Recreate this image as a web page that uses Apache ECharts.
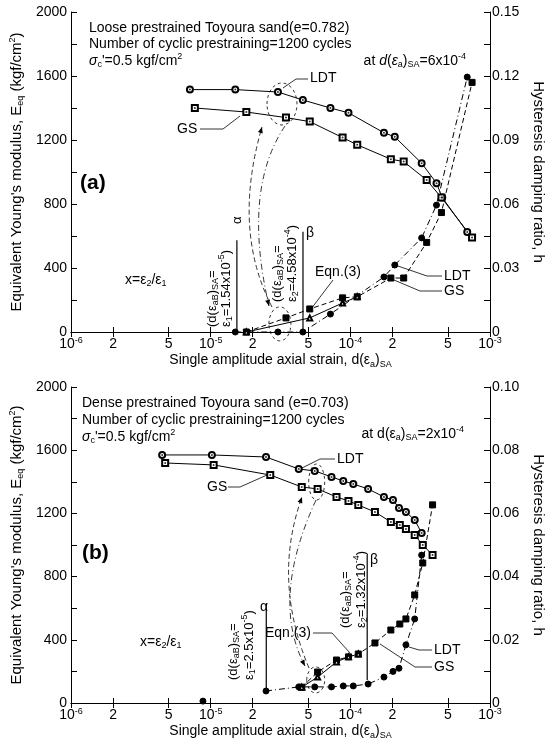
<!DOCTYPE html>
<html>
<head>
<meta charset="utf-8">
<script src="https://cdn.jsdelivr.net/npm/echarts@6/dist/echarts.min.js"></script>
<style>
html,body{margin:0;background:#fff}
#main{width:554px;height:744px}
</style>
</head>
<body>
<div id="main"></div>
<script>
// x ticks (log axis), shared by both panels
const strainTicks = [1e-6, 2e-6, 5e-6, 1e-5, 2e-5, 5e-5, 1e-4, 2e-4, 5e-4, 1e-3]

// panel (a) loose sand, e=0.782
const aLdtStrain = [7.1e-6, 1.5e-5, 3.03e-5, 4.57e-5, 7.2e-5, 9.7e-5, 1.74e-4, 2.08e-4, 3.24e-4, 4.14e-4, 4.55e-4, 6.87e-4]
const aLdtE = [1515, 1515, 1500, 1450, 1400, 1370, 1245, 1220, 1055, 930, 840, 625]
const aGsStrain = [7.7e-6, 1.8e-5, 3.46e-5, 5.12e-5, 8.8e-5, 1.12e-4, 1.95e-4, 2.41e-4, 3.52e-4, 4.49e-4, 7.44e-4]
const aGsE = [1400, 1375, 1340, 1315, 1215, 1170, 1080, 1065, 950, 840, 590]
const aLdtHStrain = [1.5e-5, 3.03e-5, 4.57e-5, 7.2e-5, 1.74e-4, 2.08e-4, 3.24e-4, 4.14e-4, 6.87e-4]
const aLdtH = [0, 0, 0, 0.0084, 0.0258, 0.0314, 0.0441, 0.0595, 0.1195]
const aGsHStrain = [1.8e-5, 3.46e-5, 5.12e-5, 8.8e-5, 1.12e-4, 1.95e-4, 2.41e-4, 3.52e-4, 4.49e-4, 7.44e-4]
const aGsH = [0, 0.0066, 0.0108, 0.016, 0.0165, 0.0253, 0.0253, 0.042, 0.056, 0.117]
const aEqnStrain = [1.8e-5, 5.12e-5, 8.8e-5, 1.12e-4]
const aEqnH = [0, 0.0066, 0.0136, 0.0165]

// panel (b) dense sand, e=0.703
const bLdtStrain = [4.49e-6, 1.02e-5, 2.49e-5, 4.27e-5, 5.56e-5, 7.33e-5, 8.9e-5, 1.05e-4, 1.34e-4, 1.74e-4, 2.02e-4, 2.23e-4, 2.5e-4, 2.89e-4, 3.24e-4]
const bLdtE = [1570, 1570, 1557, 1481, 1469, 1431, 1405, 1386, 1355, 1304, 1285, 1234, 1209, 1158, 1076]
const bGsStrain = [4.72e-6, 1.05e-5, 2.67e-5, 4.49e-5, 5.83e-5, 7.96e-5, 9.7e-5, 1.14e-4, 1.5e-4, 1.95e-4, 2.26e-4, 2.5e-4, 2.89e-4, 3.3e-4, 3.88e-4]
const bGsE = [1519, 1507, 1443, 1367, 1355, 1304, 1279, 1253, 1209, 1146, 1127, 1101, 1063, 1000, 937]
const bLdtHStrain = [2.49e-5, 4.27e-5, 5.56e-5, 7.33e-5, 8.9e-5, 1.05e-4, 1.34e-4, 1.74e-4, 2.02e-4, 2.23e-4, 2.5e-4, 2.89e-4, 3.24e-4]
const bLdtH = [0.0038, 0.0051, 0.0051, 0.0051, 0.0054, 0.0054, 0.006, 0.0082, 0.010, 0.011, 0.0184, 0.0266, 0.0468]
const bLoneStrain = [8.8e-6]
const bLoneH = [0.0006]
const bGsHStrain = [4.49e-5, 5.83e-5, 7.96e-5, 9.7e-5, 1.14e-4, 1.5e-4, 1.95e-4, 2.26e-4, 2.5e-4, 2.89e-4, 3.3e-4, 3.88e-4]
const bGsH = [0.005, 0.0098, 0.0136, 0.0146, 0.0155, 0.019, 0.0231, 0.025, 0.0266, 0.0342, 0.0443, 0.0627]
const bEqnStrain = [4.49e-5, 5.83e-5, 7.96e-5, 9.7e-5, 1.14e-4]
const bEqnH = [0.005, 0.0082, 0.013, 0.0146, 0.0155]

const FF = '"Liberation Sans", Arial, sans-serif'
const pts = (xs, ys) => xs.map((x, i) => [x, ys[i]])

const RICH = {
    sub: { fontSize: 9, fontFamily: FF, verticalAlign: 'bottom', lineHeight: 17, color: '#000' },
    sup: { fontSize: 9, fontFamily: FF, verticalAlign: 'top', lineHeight: 17, color: '#000' },
    b: { fontSize: 14, fontFamily: FF, lineHeight: 17, color: '#000' },
    s: { fontSize: 9, fontFamily: FF, verticalAlign: 'top', lineHeight: 17, color: '#000' }
}

const fmtStrain = v => {
    const e = Math.floor(Math.log10(v) + 1e-9)
    const m = Math.round(v / Math.pow(10, e))
    return m === 1 ? '{b|10}{s|' + e + '}' : '{b|' + m + '}'
}

const chart = echarts.init(document.getElementById('main'))

function xAxes(grid) {
    return [{
        type: 'log', gridIndex: grid, min: 1e-6, max: 1e-3, position: 'bottom',
        axisLine: { lineStyle: { color: '#000', width: 1 } },
        axisTick: { inside: true, length: 5, customValues: strainTicks, lineStyle: { color: '#000' } },
        axisLabel: { customValues: strainTicks, formatter: fmtStrain, rich: RICH, margin: 4 },
        splitLine: { show: false }, minorTick: { show: false },
        name: 'Single amplitude axial strain, d(ε{sub|a}){sub|SA}',
        nameLocation: 'middle', nameGap: 20,
        nameTextStyle: { fontSize: 14, fontFamily: FF, color: '#000', rich: RICH }
    }, {
        type: 'log', gridIndex: grid, min: 1e-6, max: 1e-3, position: 'top',
        axisLine: { lineStyle: { color: '#000', width: 1 } },
        axisTick: { inside: true, length: 5, customValues: strainTicks, lineStyle: { color: '#000' } },
        axisLabel: { show: false }, splitLine: { show: false }
    }]
}

function yAxes(grid, hMax, hStep) {
    return [{
        type: 'value', gridIndex: grid, min: 0, max: 2000, interval: 400, position: 'left',
        axisLine: { show: true, lineStyle: { color: '#000' } },
        axisTick: { show: true, inside: true, length: 6, lineStyle: { color: '#000' } },
        minorTick: { show: true, splitNumber: 2, length: 6, lineStyle: { color: '#000' } },
        axisLabel: { color: '#000', fontSize: 14, fontFamily: FF, margin: 4, formatter: v => String(v) },
        splitLine: { show: false },
        name: "Equivalent Young's modulus, E{sub|eq} (kgf/cm{sup|2})",
        nameLocation: 'middle', nameGap: 36, nameRotate: 90,
        nameTextStyle: { fontSize: 15, fontFamily: FF, color: '#000', rich: RICH }
    }, {
        type: 'value', gridIndex: grid, min: 0, max: hMax, interval: hStep, position: 'right',
        axisLine: { show: true, lineStyle: { color: '#000' } },
        axisTick: { show: true, inside: true, length: 6, lineStyle: { color: '#000' } },
        minorTick: { show: true, splitNumber: 2, length: 6, lineStyle: { color: '#000' } },
        axisLabel: { color: '#000', fontSize: 14, fontFamily: FF, margin: 2,
            formatter: v => v === 0 ? '0' : v.toFixed(2) },
        splitLine: { show: false },
        name: 'Hysteresis damping ratio, h',
        nameLocation: 'middle', nameGap: 32, nameRotate: -90,
        nameTextStyle: { fontSize: 15, fontFamily: FF, color: '#000' }
    }]
}

function lineSeries(xi, yi, data, symbol, dash, size) {
    return {
        type: 'line', xAxisIndex: xi, yAxisIndex: yi, data,
        symbol, symbolSize: size || 6, showSymbol: true, animation: false,
        lineStyle: { color: '#000', width: 1, type: dash || 'solid' },
        itemStyle: { color: '#000', borderColor: '#000', borderWidth: 1 }
    }
}
function dots(xi, yi, data) {
    return { type: 'scatter', xAxisIndex: xi, yAxisIndex: yi, data, symbolSize: 2,
        itemStyle: { color: '#000' }, animation: false, z: 5 }
}

const DASH = [5, 3]
const DASHDOT = [6, 3, 1, 3]

chart.setOption({
    backgroundColor: '#fff',
    animation: false,
    grid: [
        { left: 66, top: 12, width: 424, height: 320 },
        { left: 66, top: 387, width: 424, height: 316 }
    ],
    xAxis: [...xAxes(0), ...xAxes(1)],
    yAxis: [...yAxes(0, 0.15, 0.03), ...yAxes(1, 0.10, 0.02)],
    series: [
        lineSeries(0, 0, pts(aLdtStrain, aLdtE), 'emptyCircle'),
        dots(0, 0, pts(aLdtStrain, aLdtE)),
        lineSeries(0, 0, pts(aGsStrain, aGsE), 'emptyRect'),
        dots(0, 0, pts(aGsStrain, aGsE)),
        lineSeries(0, 1, pts(aLdtHStrain, aLdtH), 'circle', DASHDOT),
        lineSeries(0, 1, pts(aGsHStrain, aGsH), 'rect', DASH),
        lineSeries(0, 1, pts(aEqnStrain, aEqnH), 'emptyTriangle', 'solid', 5),

        lineSeries(2, 2, pts(bLdtStrain, bLdtE), 'emptyCircle'),
        dots(2, 2, pts(bLdtStrain, bLdtE)),
        lineSeries(2, 2, pts(bGsStrain, bGsE), 'emptyRect'),
        dots(2, 2, pts(bGsStrain, bGsE)),
        lineSeries(2, 3, pts(bLdtHStrain, bLdtH), 'circle', DASHDOT),
        lineSeries(2, 3, pts(bLoneStrain, bLoneH), 'circle'),
        lineSeries(2, 3, pts(bGsHStrain, bGsH), 'rect', DASH),
        lineSeries(2, 3, pts(bEqnStrain, bEqnH), 'emptyTriangle', 'solid', 5)
    ]
})

// ---------- annotations ----------
const P = (xi, yi, x, y) => chart.convertToPixel({ xAxisIndex: xi, yAxisIndex: yi }, [x, y])

const txt = (x, y, text, opt) => Object.assign({
    type: 'text', x, y, silent: true,
    style: Object.assign({ text, fill: '#000', font: '14px ' + FF, textVerticalAlign: 'middle', lineHeight: 17,
        rich: {
            sub: RICH.sub, sup: RICH.sup,
            n: { fontSize: 14, fontFamily: FF, lineHeight: 17 },
            i: { fontSize: 14, fontFamily: FF, fontStyle: 'italic', lineHeight: 17 }
        } }, opt && opt.style)
}, opt && opt.el)
const rot = (x, y, text) => txt(x, y, text, { el: { rotation: Math.PI / 2 }, style: { font: '13px ' + FF } })
const poly = (points, dash) => ({ type: 'polyline', silent: true, shape: { points },
    style: { stroke: '#000', lineWidth: 0.8, fill: null, lineDash: dash || null } })
const vline = (p1, p2) => ({ type: 'line', silent: true,
    shape: { x1: p1[0], y1: p1[1], x2: p2[0], y2: p2[1] }, style: { stroke: '#000', lineWidth: 1.2 } })
const ell = (c, rx, ry) => ({ type: 'ellipse', silent: true, shape: { cx: c[0], cy: c[1], rx, ry },
    style: { fill: 'none', stroke: '#000', lineWidth: 0.8, lineDash: [3, 3] } })
function curve(p0, cp, p1, dash) {
    const dx = p1[0] - cp[0], dy = p1[1] - cp[1], L = Math.hypot(dx, dy)
    const ux = dx / L, uy = dy / L, s = 6
    return [{
        type: 'bezierCurve', silent: true,
        shape: { x1: p0[0], y1: p0[1], x2: p1[0], y2: p1[1], cpx1: cp[0], cpy1: cp[1] },
        style: { stroke: '#000', lineWidth: 0.8, fill: null, lineDash: dash }
    }, {
        type: 'polygon', silent: true,
        shape: { points: [p1, [p1[0] - ux * s - uy * 2.5, p1[1] - uy * s + ux * 2.5], [p1[0] - ux * s + uy * 2.5, p1[1] - uy * s - ux * 2.5]] },
        style: { fill: '#000' }
    }]
}

const sigma = '{i|σ}{sub|c}\'=0.5 kgf/cm{sup|2}'
const g = []

// panel (a)
g.push(txt(89, 28, 'Loose prestrained Toyoura sand(e=0.782)'))
g.push(txt(89, 44, 'Number of cyclic prestraining=1200 cycles'))
g.push(txt(89, 61, sigma))
g.push(txt(466, 61, 'at {i|d}({i|ε}{sub|a}){sub|SA}=6x10{sup|-4}', { style: { textAlign: 'right' } }))
g.push(txt(80, 183, '(a)', { style: { font: 'bold 21px ' + FF } }))
g.push(txt(125, 280, 'x=ε{sub|2}/ε{sub|1}'))
g.push(txt(310, 78, 'LDT'), poly([[308, 79], [296, 79], [283, 88]]))
g.push(txt(177, 129, 'GS'), poly([[200, 129], [223, 129], [240, 116]]))
g.push(txt(315, 272, 'Eqn.(3)'), poly([[333, 280], [311, 309]]))
g.push(txt(444, 276, 'LDT'), poly([[395, 265], [427, 276], [442, 276]]))
g.push(txt(444, 291, 'GS'), poly([[394, 280], [420, 291], [442, 291]]))
g.push(vline(P(0, 1, 1.54e-5, 0), P(0, 1, 1.54e-5, 0.043)))
g.push(vline(P(0, 1, 4.58e-5, 0), P(0, 1, 4.58e-5, 0.047)))
g.push(rot(212, 327, '(d(ε{sub|aB}){sub|SA}='))
g.push(rot(226, 327, 'ε{sub|1}=1.54x10{sup|-5})'))
g.push(rot(237, 224, 'α'))
g.push(rot(277, 302, '(d(ε{sub|aB}){sub|SA}='))
g.push(rot(292, 302, 'ε{sub|2}=4.58x10{sup|-4})'))
g.push(txt(306, 233, 'β'))
g.push(ell(P(0, 0, 3.24e-5, 1425), 15, 21))
g.push(ell(P(0, 1, 3.13e-5, 0.0038), 11, 17))
g.push(...curve([272, 307], [232, 230], [262, 127], DASH))
g.push(...curve([285, 126], [242, 190], [269, 306], DASHDOT))

// panel (b)
g.push(txt(82, 403, 'Dense prestrained Toyoura sand (e=0.703)'))
g.push(txt(82, 420, 'Number of cyclic prestraining=1200 cycles'))
g.push(txt(82, 437, sigma))
g.push(txt(464, 434, 'at d(ε{sub|a}){sub|SA}=2x10{sup|-4}', { style: { textAlign: 'right' } }))
g.push(txt(82, 553, '(b)', { style: { font: 'bold 21px ' + FF } }))
g.push(txt(140, 642, 'x=ε{sub|2}/ε{sub|1}'))
g.push(txt(337, 459, 'LDT'), poly([[335, 459], [320, 459], [300, 469]]))
g.push(txt(207, 487, 'GS'), poly([[228, 487], [240, 487], [267, 475]]))
g.push(txt(265, 633, 'Eqn.(3)'), poly([[313, 633], [332, 633], [350, 653]]))
g.push(txt(434, 650, 'LDT'), poly([[409, 647], [419, 650], [432, 650]]))
g.push(txt(434, 667, 'GS'), poly([[380, 644], [415, 667], [432, 667]]))
g.push(vline(P(2, 3, 2.5e-5, 0.0047), P(2, 3, 2.5e-5, 0.0316)))
g.push(vline(P(2, 3, 1.32e-4, 0.0073), P(2, 3, 1.32e-4, 0.0468)))
g.push(rot(233, 680, '(d(ε{sub|aB}){sub|SA}='))
g.push(rot(249, 680, 'ε{sub|1}=2.5x10{sup|-5})'))
g.push(txt(260, 607, 'α'))
g.push(rot(345, 628, '(d(ε{sub|aB}){sub|SA}='))
g.push(rot(361, 628, 'ε{sub|2}=1.32x10{sup|-4})'))
g.push(txt(370, 560, 'β'))
g.push(ell(P(2, 2, 5.74e-5, 1399), 8, 18))
g.push(ell(P(2, 3, 5.65e-5, 0.0073), 9, 13))
g.push(...curve([309, 668], [272, 580], [302, 497], DASH))
g.push(...curve([316, 500], [270, 600], [305, 666], DASHDOT))

chart.setOption({ graphic: g })
</script>
</body>
</html>
